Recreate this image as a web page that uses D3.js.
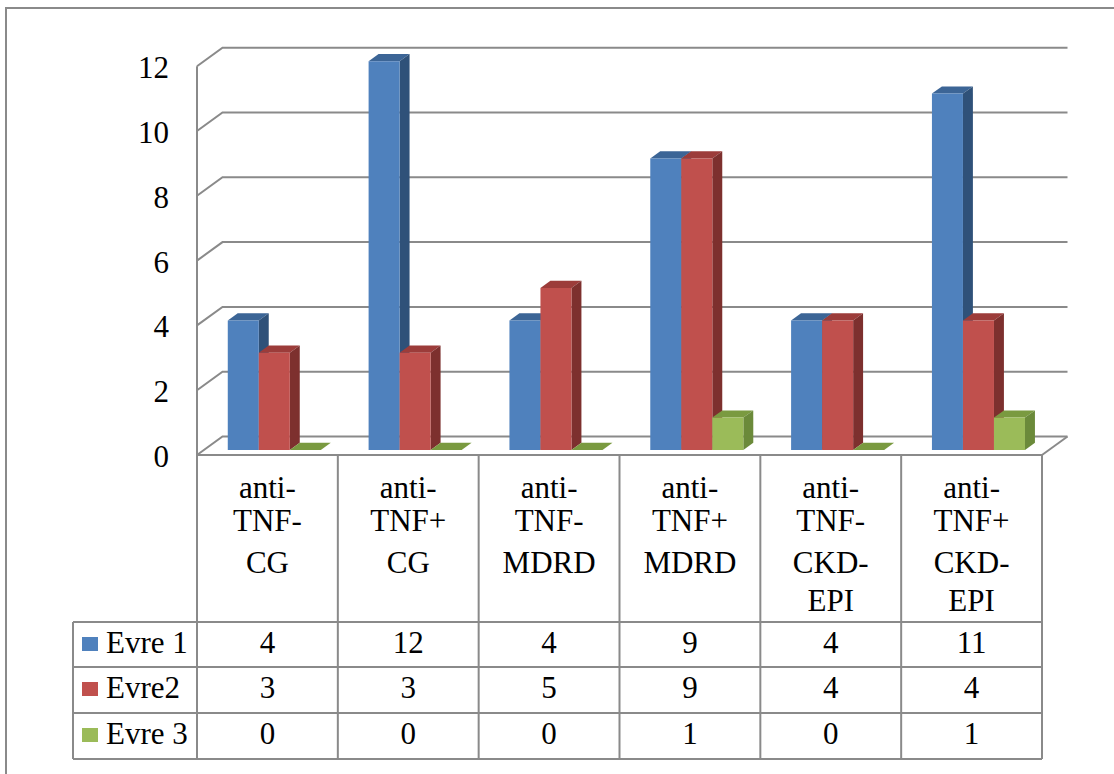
<!DOCTYPE html>
<html>
<head>
<meta charset="utf-8">
<script src="https://cdn.jsdelivr.net/npm/d3@7"></script>
<style>
  html, body { margin: 0; padding: 0; background: #fff; }
  svg { display: block; }
  svg text { font-family: "Liberation Serif", "Times New Roman", Times, "DejaVu Serif", serif; }
</style>
</head>
<body>
<svg id="chart" width="1114" height="774"></svg>
<script>
// ---- data ----
const categories = ["anti-TNF- CG", "anti-TNF+ CG", "anti-TNF- MDRD", "anti-TNF+ MDRD", "anti-TNF- CKD-EPI", "anti-TNF+ CKD-EPI"];
const categoryLines = [
  ["anti-", "TNF-", "CG"],
  ["anti-", "TNF+", "CG"],
  ["anti-", "TNF-", "MDRD"],
  ["anti-", "TNF+", "MDRD"],
  ["anti-", "TNF-", "CKD-", "EPI"],
  ["anti-", "TNF+", "CKD-", "EPI"]
];
const seriesNames = ["Evre 1", "Evre2", "Evre 3"];
const evre1 = [4, 12, 4, 9, 4, 11];
const evre2 = [3, 3, 5, 9, 4, 4];
const evre3 = [0, 0, 0, 1, 0, 1];
const yTicks = [0, 2, 4, 6, 8, 10, 12];

const seriesValues = [evre1, evre2, evre3];

// face colours per series: front, side, top
const palette = [
  { front: "#4F81BD", side: "#2F5179", top: "#3C6596" },
  { front: "#C0504D", side: "#7D302E", top: "#9C3C3A" },
  { front: "#9BBB59", side: "#6B8A3A", top: "#7A9A40" }
];

// ---- layout ----
const plotLeft = 197, plotRight = 1042, floorY = 455;
const depthX = 25.5, depthY = -18.5;      // oblique depth vector of the floor
const barZ0 = 0.27, barZ1 = 0.66;         // bar front / back as fraction of depth
const gridColor = "#8A8A8A";
const fontFamily = "'Liberation Serif', 'Times New Roman', Times, 'DejaVu Serif', serif";

const svg = d3.select("#chart").attr("font-family", fontFamily);

const x = d3.scaleBand().domain(categories).range([plotLeft, plotRight]);
const xs = d3.scaleBand().domain(seriesNames).range([0, x.bandwidth()])
  .paddingInner(0).paddingOuter(0.77);
const y = d3.scaleLinear().domain([0, 12]).range([floorY, floorY - 12 * 32.4]);

// project (screen x in front plane, value, depth fraction) to screen coordinates
const P = (px, v, z) => [px + z * depthX, y(v) + z * depthY];
const poly = pts => pts.map(p => p.join(",")).join(" ");

// outer frame
svg.append("rect")
  .attr("x", 6).attr("y", 8).attr("width", 1130).attr("height", 790)
  .attr("fill", "#fff").attr("stroke", gridColor).attr("stroke-width", 2);

// ---- walls and gridlines ----
const grid = svg.append("g").attr("stroke", gridColor).attr("stroke-width", 2).attr("fill", "none");
yTicks.forEach(v => {
  const a = P(plotLeft, v, 0), b = P(plotLeft, v, 1), c = P(plotRight, v, 1);
  grid.append("polyline").attr("points", poly([a, b, c]));
});
// left axis edge
grid.append("line")
  .attr("x1", plotLeft).attr("x2", plotLeft)
  .attr("y1", y(12)).attr("y2", floorY);
// floor right edge
{
  const a = P(plotRight, 0, 0), b = P(plotRight, 0, 1);
  grid.append("line").attr("x1", a[0]).attr("y1", a[1]).attr("x2", b[0]).attr("y2", b[1]);
}

// value axis labels
svg.append("g").selectAll("text").data(yTicks).join("text")
  .attr("x", 169).attr("y", d => y(d) + 12)
  .attr("text-anchor", "end")
  .attr("font-family", fontFamily)
  .attr("font-size", 31).attr("fill", "#000")
  .text(d => d);

// ---- 3D bars ----
const bars = svg.append("g");
categories.forEach((cat, ci) => {
  seriesNames.forEach((s, si) => {
    const v = seriesValues[si][ci];
    const x0 = x(cat) + xs(s), x1 = x0 + xs.bandwidth();
    const col = palette[si];
    // top face
    bars.append("polygon")
      .attr("points", poly([P(x0, v, barZ0), P(x1, v, barZ0), P(x1, v, barZ1), P(x0, v, barZ1)]))
      .attr("fill", col.top);
    if (v > 0) {
      // right side face
      bars.append("polygon")
        .attr("points", poly([P(x1, 0, barZ0), P(x1, v, barZ0), P(x1, v, barZ1), P(x1, 0, barZ1)]))
        .attr("fill", col.side);
      // front face
      bars.append("polygon")
        .attr("points", poly([P(x0, 0, barZ0), P(x1, 0, barZ0), P(x1, v, barZ0), P(x0, v, barZ0)]))
        .attr("fill", col.front);
    }
  });
});

// ---- data table ----
const rowTops = [622, 667, 713];
const tableBottom = 759, legendLeft = 73;
const table = svg.append("g").attr("stroke", gridColor).attr("stroke-width", 2).attr("fill", "none");

// horizontal rules
table.append("line").attr("x1", plotLeft).attr("x2", plotRight).attr("y1", floorY).attr("y2", floorY);
rowTops.concat([tableBottom]).forEach(ry => {
  table.append("line").attr("x1", legendLeft).attr("x2", plotRight).attr("y1", ry).attr("y2", ry);
});
// vertical rules
categories.concat([null]).forEach(cat => {
  const vx = cat === null ? plotRight : x(cat);
  table.append("line").attr("x1", vx).attr("x2", vx).attr("y1", floorY).attr("y2", tableBottom);
});
table.append("line").attr("x1", legendLeft).attr("x2", legendLeft).attr("y1", rowTops[0]).attr("y2", tableBottom);

// category header labels
const lineBaselines = [498, 531, 573, 611];
const headers = svg.append("g").attr("font-size", 31).attr("fill", "#000")
  .attr("font-family", fontFamily).attr("text-anchor", "middle");
categories.forEach((cat, ci) => {
  categoryLines[ci].forEach((ln, li) => {
    headers.append("text")
      .attr("x", x(cat) + x.bandwidth() / 2)
      .attr("y", lineBaselines[li])
      .text(ln);
  });
});

// legend keys and values
seriesNames.forEach((s, si) => {
  const top = rowTops[si];
  svg.append("rect")
    .attr("x", 82).attr("y", top + 15).attr("width", 16).attr("height", 14)
    .attr("fill", palette[si].front);
  svg.append("text")
    .attr("x", 106).attr("y", top + 31)
    .attr("font-family", fontFamily)
    .attr("font-size", 31).attr("fill", "#000")
    .text(s);
  svg.append("g").selectAll("text").data(seriesValues[si]).join("text")
    .attr("x", (d, i) => x(categories[i]) + x.bandwidth() / 2)
    .attr("y", top + 31)
    .attr("text-anchor", "middle")
    .attr("font-family", fontFamily)
    .attr("font-size", 31).attr("fill", "#000")
    .text(d => d);
});
</script>
</body>
</html>
